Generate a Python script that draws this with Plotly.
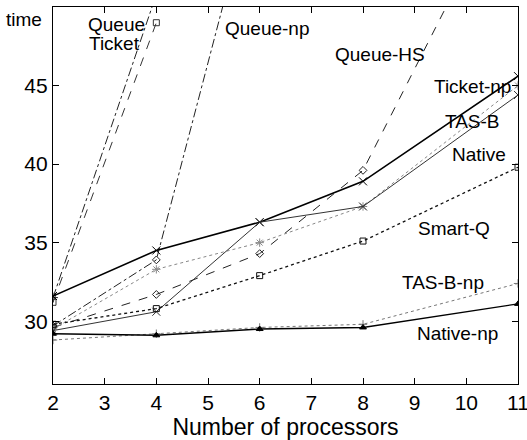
import plotly.graph_objects as go

# processors on the x axis
procs = [2, 4, 6, 8, 11]

queue = [31.5, 50.8]
ticket = [31.2, 49.0]
queue_np = [29.7, 33.9, 59.0]
queue_hs = [29.6, 31.7, 34.3, 39.6, 59.0]
ticket_np = [31.6, 34.5, 36.3, 38.9, 45.6]
tas_b = [29.5, 33.3, 35.0, 37.3, 45.0]
native = [29.4, 30.6, 36.3, 37.3, 44.4]
smart_q = [29.8, 30.8, 32.9, 35.1, 39.8]
tas_b_np = [28.8, 29.2, 29.6, 29.8, 32.4]
native_np = [29.2, 29.1, 29.5, 29.6, 31.1]

FONT = "Liberation Sans, Arial, Helvetica, sans-serif"

fig = go.Figure()

# (name, values, line colour, width, dash, marker symbol, marker size)
series = [
    ("Queue", queue, "#222", 1, "dashdot", "cross-thin-open", 7),
    ("Ticket", ticket, "#333", 1, "dash", "square-open", 6),
    ("Queue-np", queue_np, "#222", 1, "dashdot", "diamond-open", 6),
    ("Queue-HS", queue_hs, "#222", 1, "dash", "diamond-open", 6),
    ("Ticket-np", ticket_np, "black", 1.6, "solid", "x-thin-open", 8),
    ("TAS-B", tas_b, "#888", 1, "dot", "asterisk-open", 7),
    ("Native", native, "#333", 1, "solid", "x-thin-open", 8),
    ("Smart-Q", smart_q, "#111", 1.3, "dot", "square-open", 6),
    ("TAS-B-np", tas_b_np, "#777", 1, "dot", "cross-thin-open", 6),
    ("Native-np", native_np, "black", 1.4, "solid", "triangle-up", 6),
]

for name, vals, col, w, dash, sym, ms in series:
    fig.add_trace(go.Scatter(
        x=procs[:len(vals)],
        y=vals,
        mode="lines+markers",
        name=name,
        line=dict(color=col, width=w, dash=dash),
        marker=dict(symbol=sym, size=ms, color=col, line=dict(color=col, width=1)),
        showlegend=False,
    ))

# curve labels, drawn inside the plot
labels = [
    ("Queue", 2.64, 48.9),
    ("Ticket", 2.66, 47.7),
    ("Queue-np", 5.29, 48.66),
    ("Queue-HS", 7.42, 46.97),
    ("Ticket-np", 9.34, 44.97),
    ("TAS-B", 9.55, 42.74),
    ("Native", 9.68, 40.64),
    ("Smart-Q", 9.03, 35.9),
    ("TAS-B-np", 8.72, 32.48),
    ("Native-np", 9.0, 29.24),
]
for txt, lx, ly in labels:
    fig.add_annotation(x=lx, y=ly, text=txt, showarrow=False,
                       xanchor="left", yanchor="middle",
                       font=dict(size=19, color="black", family=FONT))

fig.add_annotation(x=0, y=1, xref="paper", yref="paper", text="time",
                   showarrow=False, xanchor="right", yanchor="middle",
                   xshift=-9, yshift=-12,
                   font=dict(size=19, color="black", family=FONT))

fig.update_layout(
    width=527, height=440,
    margin=dict(l=53, r=9, t=7, b=56),
    plot_bgcolor="white", paper_bgcolor="white",
    font=dict(family=FONT, size=19, color="black"),
    xaxis=dict(
        range=[2, 11], tickvals=list(range(2, 12)),
        ticks="inside", ticklen=6, tickcolor="black",
        tickfont=dict(size=21), ticklabeloverflow="allow", automargin=False,
        showline=True, linecolor="black", linewidth=1.2, mirror="allticks",
        showgrid=False, zeroline=False,
        title=dict(text="Number of processors", standoff=2),
    ),
    yaxis=dict(
        range=[26, 50], tickvals=[30, 35, 40, 45],
        ticks="inside", ticklen=6, tickcolor="black",
        tickfont=dict(size=21), automargin=False,
        showline=True, linecolor="black", linewidth=1.2, mirror="allticks",
        showgrid=False, zeroline=False,
    ),
)

fig.write_html("out.html", config={"displayModeBar": False},
               post_script="document.body.style.margin='0';")
